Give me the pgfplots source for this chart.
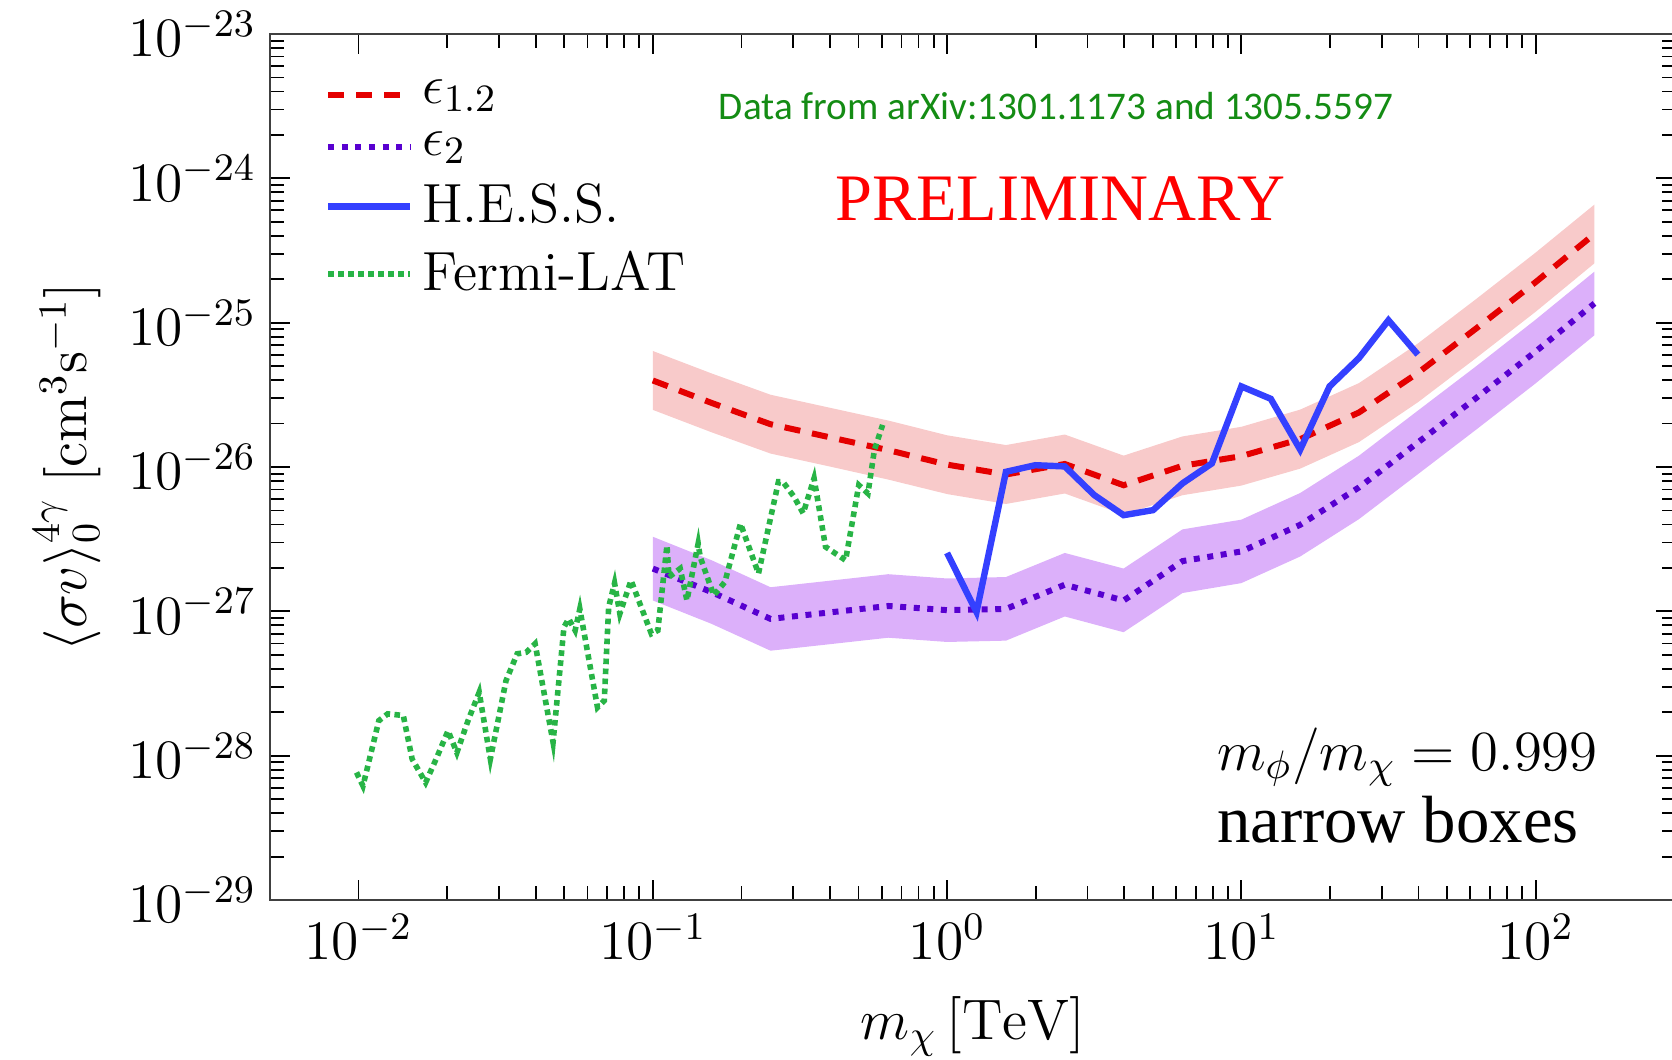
\RequirePackage{fix-cm}
\documentclass[border=0pt]{standalone}
\usepackage{fontspec}
\usepackage{pgfplots}
\pgfplotsset{compat=1.18}
\newfontfamily\libserif{Liberation Serif}
\newfontfamily\carlito{Carlito}
\definecolor{redline}{RGB}{228,0,0}
\definecolor{redband}{RGB}{248,202,202}
\definecolor{purpline}{RGB}{88,0,208}
\definecolor{purpband}{RGB}{220,176,250}
\definecolor{hessblue}{RGB}{52,64,255}
\definecolor{fermigreen}{RGB}{40,180,70}
\definecolor{datagreen}{RGB}{20,140,20}
\begin{document}
\begin{tikzpicture}
\begin{axis}[
  name=main,
  scale only axis,
  width=351.5pt, height=216.5pt,
  xmode=log, ymode=log,
  xmin=0.005, xmax=300, ymin=1e-29, ymax=1e-23,
  xtick={0.01,0.1,1,10,100},
  ytick={1e-29,1e-28,1e-27,1e-26,1e-25,1e-24,1e-23},
  tick align=inside,
  major tick length=5pt, minor tick length=3.5pt,
  tick style={black, line width=0.45pt},
  axis line style={line width=0.7pt, black!75},
  ticklabel style={font=\fontsize{13.9}{16}\selectfont},
  label style={font=\fontsize{14.3}{17}\selectfont},
  xlabel style={yshift=-2.5pt},
  xlabel={$m_\chi\,[\mathrm{TeV}]$},
  ylabel={$\langle\sigma v\rangle_0^{4\gamma}\;[\mathrm{cm}^3\mathrm{s}^{-1}]$},
  legend style={draw=none, fill=none, at={(0,1)}, anchor=north west,
    xshift=13.75pt, yshift=-10.4pt, inner sep=0pt, outer sep=0pt,
    row sep=3.6pt, column sep=1.25pt, nodes={inner sep=1pt},
    font=\fontsize{13.8}{16}\selectfont, cells={anchor=west}},
  legend image code/.code={\draw[#1] (0pt,0pt) -- (20.5pt,0pt);},
]
% bands
\addplot[draw=none, fill=redband, forget plot] coordinates {
(0.1,6.37e-26) (0.1585,4.45e-26) (0.2512,3.17e-26) (0.3981,2.58e-26) (0.631,2.10e-26)
(1,1.66e-26) (1.585,1.42e-26) (2.512,1.68e-26) (3.981,1.20e-26) (6.31,1.63e-26)
(10,1.90e-26) (15.85,2.50e-26) (25.12,3.82e-26) (39.81,7.18e-26) (63.1,1.47e-25)
(100,3.06e-25) (158.5,6.59e-25)
(158.5,2.58e-25) (100,1.19e-25) (63.1,5.74e-26) (39.81,2.81e-26) (25.12,1.49e-26)
(15.85,9.75e-27) (10,7.44e-27) (6.31,6.38e-27) (3.981,4.68e-27) (2.512,6.56e-27)
(1.585,5.55e-27) (1,6.50e-27) (0.631,8.19e-27) (0.3981,1.01e-26) (0.2512,1.24e-26)
(0.1585,1.74e-26) (0.1,2.49e-26)};
\addplot[draw=none, fill=purpband, forget plot] coordinates {
(0.1,3.29e-27) (0.1585,2.26e-27) (0.2512,1.47e-27) (0.3981,1.63e-27) (0.631,1.81e-27)
(1,1.69e-27) (1.585,1.73e-27) (2.512,2.54e-27) (3.981,1.98e-27) (6.31,3.70e-27)
(10,4.32e-27) (15.85,6.61e-27) (25.12,1.20e-26) (39.81,2.46e-26) (63.1,5.03e-26)
(100,1.05e-25) (158.5,2.26e-25)
(158.5,8.19e-26) (100,3.80e-26) (63.1,1.83e-26) (39.81,8.92e-27) (25.12,4.36e-27)
(15.85,2.40e-27) (10,1.57e-27) (6.31,1.34e-27) (3.981,7.17e-28) (2.512,9.22e-28)
(1.585,6.27e-28) (1,6.14e-28) (0.631,6.57e-28) (0.3981,5.92e-28) (0.2512,5.34e-28)
(0.1585,8.19e-28) (0.1,1.19e-27)};
% epsilon 1.2
\addplot[redline, line width=1.5pt, dash pattern=on 4pt off 3pt] coordinates {
(0.1,3.98e-26) (0.1585,2.78e-26) (0.2512,1.98e-26) (0.3981,1.61e-26) (0.631,1.31e-26)
(1,1.04e-26) (1.585,8.88e-27) (2.512,1.05e-26) (3.981,7.48e-27) (6.31,1.02e-26)
(10,1.19e-26) (15.85,1.56e-26) (25.12,2.39e-26) (39.81,4.49e-26) (63.1,9.19e-26)
(100,1.91e-25) (158.5,4.12e-25)};
\addlegendentry{$\epsilon_{1.2}$}
% epsilon 2
\addplot[purpline, line width=1.5pt, dash pattern=on 1.5pt off 1.9pt] coordinates {
(0.1,1.98e-27) (0.1585,1.36e-27) (0.2512,8.87e-28) (0.3981,9.83e-28) (0.631,1.09e-27)
(1,1.02e-27) (1.585,1.04e-27) (2.512,1.53e-27) (3.981,1.19e-27) (6.31,2.23e-27)
(10,2.60e-27) (15.85,3.98e-27) (25.12,7.23e-27) (39.81,1.48e-26) (63.1,3.03e-26)
(100,6.31e-26) (158.5,1.36e-25)};
\addlegendentry{$\epsilon_{2}$}
% HESS
\addplot[hessblue, line width=1.6pt] coordinates {
(1,2.54e-27) (1.259,9.9e-28) (1.585,9.27e-27) (1.995,1.03e-26) (2.512,1.01e-26)
(3.162,6.40e-27) (3.981,4.64e-27) (5.012,5.03e-27) (6.310,7.71e-27) (7.943,1.06e-26)
(10,3.62e-26) (12.59,2.97e-26) (15.85,1.32e-26) (19.95,3.62e-26) (25.12,5.70e-26)
(31.62,1.04e-25) (39.81,6.01e-26)};
\addlegendentry{H.E.S.S.}
% Fermi-LAT
\addplot[fermigreen, line width=1.4pt, dash pattern=on 1.4pt off 1.1pt] coordinates {
(0.00984,7.66e-29) (0.01035,6.18e-29) (0.01172,1.75e-28) (0.01256,1.95e-28) (0.01419,1.90e-28)
(0.01521,9.48e-29) (0.01690,6.52e-29) (0.01845,9.73e-29) (0.02014,1.49e-28) (0.02158,1.05e-28)
(0.02355,1.75e-28) (0.02570,2.75e-28) (0.02805,9.48e-29) (0.03170,3.31e-28) (0.03459,5.08e-28)
(0.03715,5.21e-28) (0.03981,5.97e-28) (0.04581,1.24e-28) (0.04989,7.78e-28) (0.05176,8.89e-28)
(0.05445,7.38e-28) (0.05649,1.04e-27) (0.06486,2.16e-28) (0.06839,2.41e-28) (0.07079,1.07e-27)
(0.07413,1.57e-27) (0.07727,9.64e-28) (0.08433,1.64e-27) (0.09886,7.00e-28) (0.1040,7.38e-28)
(0.1117,2.87e-27) (0.1135,1.73e-27) (0.1239,1.98e-27) (0.1306,1.19e-27) (0.1426,2.95e-27)
(0.1449,2.38e-27) (0.1611,1.29e-27) (0.1758,1.60e-27) (0.1986,4.06e-27) (0.2286,1.83e-27)
(0.2673,7.91e-27) (0.2767,7.91e-27) (0.3020,6.22e-27) (0.3243,4.78e-27) (0.3532,8.36e-27)
(0.3864,2.80e-27) (0.4519,2.26e-27) (0.5012,7.50e-27) (0.5383,6.56e-27) (0.5662,1.31e-26)
(0.6039,1.96e-26)};
\addlegendentry{Fermi-LAT}
% annotations
\node[font=\carlito\fontsize{9.8}{12}\selectfont, text=datagreen, anchor=base, inner sep=0pt]
  at (rel axis cs:0.559,0.9015) {Data from arXiv:1301.1173 and 1305.5597};
\node[font=\libserif\fontsize{16.6}{20}\selectfont, text=red, anchor=base, inner sep=0pt]
  at (rel axis cs:0.562,0.785) {PRELIMINARY};
\node[anchor=base west, font=\fontsize{14.2}{17}\selectfont, inner sep=0pt]
  at (rel axis cs:0.673,0.150) {$m_\phi/m_\chi = 0.999$};
\node[anchor=base west, font=\libserif\fontsize{16.7}{20}\selectfont, inner sep=0pt]
  at (rel axis cs:0.673,0.067) {narrow boxes};
\end{axis}
\pgfresetboundingbox
\path[use as bounding box] ([shift={(-67.5pt,-40pt)}]main.south west) rectangle ([shift={(-1pt,8.5pt)}]main.north east);
\end{tikzpicture}
\end{document}
